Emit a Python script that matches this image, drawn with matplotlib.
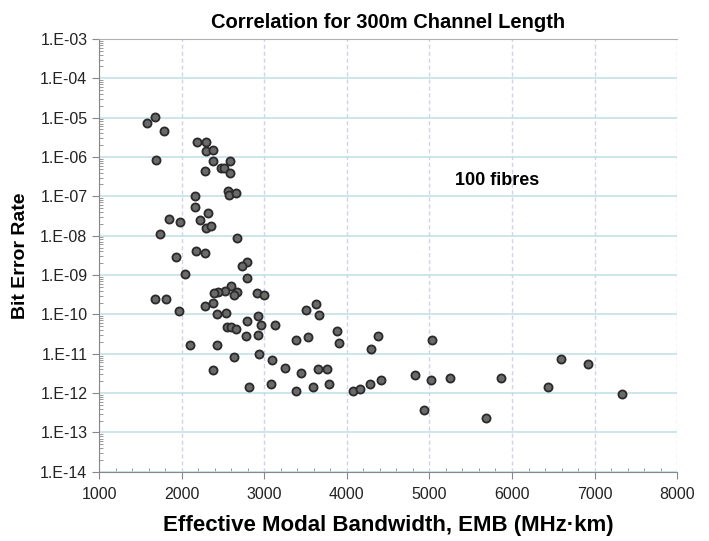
import matplotlib
matplotlib.use("Agg")
import matplotlib.pyplot as plt
from matplotlib.ticker import LogLocator, MultipleLocator, FuncFormatter, NullFormatter
import numpy as np

plt.rcParams['font.family'] = ['Liberation Sans', 'DejaVu Sans']

emb = [1677, 1576, 1786, 2189, 2290, 2294, 2379, 1693, 2379, 2585, 2476, 2516, 2278, 2589,
       2557, 2577, 2661, 2161, 2161, 2314, 1846, 1983, 2225, 2290, 2351, 1733, 2666,
       1931, 2169, 2278, 2040, 2787, 2730, 2790, 2601, 2528, 2440, 2391, 2669, 2637, 2908,
       3000, 1677, 1814, 2375, 2282, 1967, 2424, 2540, 2790, 2924, 2964, 3133, 2548, 2601,
       2657, 2778, 2924, 2100, 2431, 2630, 2940, 3093, 2375,
       3387, 3525, 3877, 3908, 3251, 3444, 3654, 3755, 2811, 3085, 3387, 3593, 3783, 4074, 4159,
       4280, 4409, 4292, 4380, 5027, 4821, 5018, 5245, 5869, 4937, 5680,
       6588, 6923, 6435, 7327,
       3508, 3622, 3662]
ber = [1.05e-5, 7.2e-6, 4.7e-6, 2.4e-6, 2.4e-6, 1.4e-6, 1.5e-6, 8.5e-7, 8e-7, 7.8e-7, 5.1e-7, 5.1e-7, 4.5e-7, 4e-7,
       1.4e-7, 1.1e-7, 1.2e-7, 1.0e-7, 5.5e-8, 3.8e-8, 2.6e-8, 2.2e-8, 2.5e-8, 1.6e-8, 1.8e-8, 1.1e-8, 8.9e-9,
       2.9e-9, 4e-9, 3.7e-9, 1.05e-9, 2.2e-9, 1.7e-9, 8.3e-10, 5.2e-10, 4e-10, 3.7e-10, 3.5e-10, 3.7e-10, 3.1e-10, 3.4e-10,
       3.1e-10, 2.5e-10, 2.4e-10, 2e-10, 1.6e-10, 1.2e-10, 1.0e-10, 1.1e-10, 6.8e-11, 9e-11, 5.3e-11, 5.3e-11, 4.7e-11, 4.7e-11,
       4.2e-11, 2.8e-11, 3e-11, 1.7e-11, 1.7e-11, 8.1e-12, 9.8e-12, 6.9e-12, 3.8e-12,
       2.2e-11, 2.6e-11, 3.7e-11, 1.9e-11, 4.3e-12, 3.3e-12, 4.2e-12, 4e-12, 1.45e-12, 1.73e-12, 1.1e-12, 1.4e-12, 1.7e-12, 1.1e-12, 1.3e-12,
       1.7e-12, 2.1e-12, 1.3e-11, 2.8e-11, 2.2e-11, 2.9e-12, 2.1e-12, 2.4e-12, 2.4e-12, 3.8e-13, 2.3e-13,
       7.2e-12, 5.5e-12, 1.4e-12, 9.5e-13,
       1.3e-10, 1.8e-10, 9.8e-11]

title = "Correlation for 300m Channel Length"
xlabel = "Effective Modal Bandwidth, EMB (MHz\u00b7km)"
ylabel = "Bit Error Rate"
note = "100 fibres"

fig = plt.figure(figsize=(7.09, 5.41), dpi=100)
ax = fig.add_axes([0.140, 0.128, 0.815, 0.800])

ax.set_yscale('log')
ax.set_xlim(1000, 8000)
ax.set_ylim(1e-14, 1e-3)

ax.scatter(emb, ber, s=34, facecolor='#6a6a6a', edgecolor='#2a2a2a', linewidth=1.3, zorder=3)

ax.yaxis.set_major_locator(LogLocator(base=10, numticks=20))
ax.yaxis.set_minor_locator(LogLocator(base=10, subs=np.arange(2, 10), numticks=20))
ax.yaxis.set_minor_formatter(NullFormatter())
ax.yaxis.set_major_formatter(FuncFormatter(lambda v, p: "1.E-%02d" % int(round(-np.log10(v)))))
ax.xaxis.set_major_locator(MultipleLocator(1000))
ax.xaxis.set_minor_locator(MultipleLocator(200))

ax.grid(True, which='major', axis='y', color='#c2e2e7', linewidth=1.2)
ax.grid(True, which='major', axis='x', color='#cfd3ec', linewidth=1.0, linestyle=(0, (3, 2)))
ax.set_axisbelow(True)

ax.spines['right'].set_visible(False)
ax.spines['top'].set_color('#b0b0b0')
ax.spines['left'].set_color('#888888')
ax.spines['bottom'].set_color('#888888')

ax.tick_params(axis='both', which='major', direction='out', length=5, color='#888888',
               labelsize=11.5, labelcolor='#222222')
ax.tick_params(axis='both', which='minor', direction='in', length=3, color='#888888')
ax.tick_params(axis='x', which='major', pad=6)

ax.set_title(title, fontsize=14.5, fontweight='bold', pad=8)
ax.set_xlabel(xlabel, fontsize=16, fontweight='bold', labelpad=9)
ax.set_ylabel(ylabel, fontsize=14, fontweight='bold', labelpad=8)
ax.text(5820, 2.5e-7, note, fontsize=13, fontweight='bold', ha='center', va='center')

fig.savefig("out.png", dpi=100)
